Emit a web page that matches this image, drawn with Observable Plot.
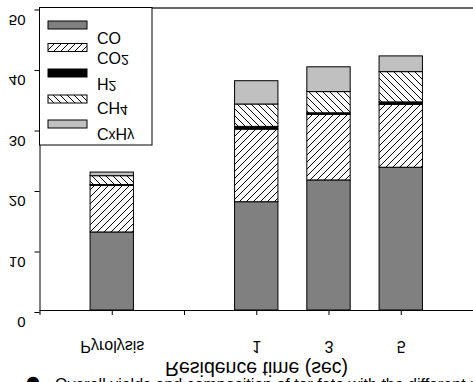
<!DOCTYPE html>
<html><head><meta charset="utf-8">
<script src="https://cdn.jsdelivr.net/npm/d3@7"></script>
<script src="https://cdn.jsdelivr.net/npm/@observablehq/plot@0.6"></script>
<style>
html,body{margin:0;padding:0;background:#fff;overflow:hidden}
svg{display:block}
</style>
</head><body><div id="chart"></div>
<script>
// ---- data ----
const categories = ["Pyrolysis", "", "1", "3", "5"];
const seriesNames = ["CO", "CO2", "H2", "CH4", "CxHy"];
const CO   = [12.9, null, 17.9, 21.5, 23.6];
const CO2  = [7.7,  null, 12.0, 10.85, 10.4];
const H2   = [0.15, null, 0.45, 0.25, 0.4];
const CH4  = [1.45, null, 3.7,  3.5,  5.0];
const CxHy = [0.6,  null, 3.85, 4.1,  2.6];
const yTicks = [0, 10, 20, 30, 40, 50];
const legendLabels = [["CO"], ["CO", "2"], ["H", "2"], ["CH", "4"], ["C", "x", "H", "y"]];
const xTitle = "Residence time (sec)";
const captionBullet = "\u25CF";
const caption = "Overall yields and composition of tar fate with the different residence time";

// ---- styles ----
const fills = {CO: "#808080", CO2: "url(#hatchF)", H2: "#000000", CH4: "url(#hatchB)", CxHy: "#c0c0c0"};
const font = "'Liberation Sans', Arial, sans-serif";

// build stacked rows
const seriesValues = [CO, CO2, H2, CH4, CxHy];
const rows = [];
categories.forEach((cat, i) => {
  if (seriesValues[0][i] == null) return;
  let acc = 0;
  seriesNames.forEach((s, k) => {
    const v = seriesValues[k][i];
    rows.push({x: i + 1, series: s, y1: acc, y2: acc + v});
    acc += v;
  });
});

const plot = Plot.plot({
  width: 473, height: 382,
  marginLeft: 39.5, marginRight: 0, marginTop: 7.5, marginBottom: 72,
  style: {fontFamily: font, background: "#fff", overflow: "hidden"},
  x: {type: "linear", domain: [0, categories.length + 1], axis: null},
  y: {domain: [0, 50], axis: null},
  color: {type: "identity"},
  marks: [
    Plot.ruleY([50], {stroke: "#333", strokeWidth: 1.3}),
    Plot.rect(rows, {x1: d => d.x - 0.3, x2: d => d.x + 0.3, y1: "y1", y2: "y2",
      fill: d => fills[d.series], stroke: "#000", strokeWidth: 1}),
    Plot.axisY({ticks: yTicks, anchor: "left", tickSize: 5, tickPadding: 9.5, fontSize: 15, dy: 2,
      tickFormat: d => String(d), stroke: "#000", color: "#000"}),
    Plot.axisX({ticks: d3.range(0, categories.length + 1), tickSize: 5, tickPadding: 14, fontSize: 16,
      tickFormat: i => (i >= 1 ? categories[i - 1] : ""), stroke: "#000", color: "#000"}),
    Plot.ruleX([0], {y1: 0, y2: 50, stroke: "#000"}),
    Plot.ruleY([0], {stroke: "#000"})
  ]
});

document.getElementById("chart").appendChild(plot);
const svg = d3.select(plot);

svg.insert("defs", ":first-child").html(`
  <pattern id="hatchF" width="7" height="7" patternUnits="userSpaceOnUse">
    <rect width="7" height="7" fill="#fff"/>
    <path d="M-1,1 l2,-2 M0,7 l7,-7 M6,8 l2,-2" stroke="#000" stroke-width="1"/>
  </pattern>
  <pattern id="hatchB" width="7" height="7" patternUnits="userSpaceOnUse">
    <rect width="7" height="7" fill="#fff"/>
    <path d="M-1,6 l2,2 M0,0 l7,7 M6,-1 l2,2" stroke="#000" stroke-width="1"/>
  </pattern>`);

// ---- legend ----
const lg = svg.append("g").attr("font-family", font).attr("text-anchor", "start");
lg.append("rect").attr("x", 39.5).attr("y", 7.5).attr("width", 112.5).attr("height", 137.5)
  .attr("fill", "#fff").attr("stroke", "#000");
const swatchTop = [21, 43.5, 69, 95, 120];
const textBase = [31.7, 52, 78, 102, 128];
seriesNames.forEach((s, k) => {
  lg.append("rect").attr("x", 48).attr("y", swatchTop[k]).attr("width", 39).attr("height", 8)
    .attr("fill", fills[s]).attr("stroke", "#000").attr("stroke-width", 1);
  let xpos = 97;
  legendLabels[k].forEach((part, j) => {
    const sub = j % 2 === 1;
    const t = lg.append("text").attr("x", xpos).attr("y", textBase[k] + (sub ? 3 : 0))
      .attr("text-anchor", "start")
      .attr("font-size", sub ? 14 : 16).attr("fill", "#000").text(part);
    xpos += t.node().getComputedTextLength();
  });
});

// ---- axis title & caption ----
svg.append("text").attr("x", 256.5).attr("y", 362).attr("text-anchor", "middle")
  .attr("font-family", font).attr("font-size", 19.5).attr("fill", "#000").text(xTitle);
svg.append("text").attr("class", "noflip").attr("x", 26).attr("y", 387)
  .attr("text-anchor", "start").attr("font-family", "'DejaVu Sans', sans-serif").attr("font-size", 16)
  .attr("fill", "#000").text(captionBullet);
svg.append("text").attr("class", "noflip").attr("x", 55).attr("y", 390)
  .attr("text-anchor", "start")
  .attr("font-family", font).attr("font-size", 16).attr("fill", "#000").text(caption);

// ---- flip all texts (except caption) about their baseline ----
plot.querySelectorAll("text").forEach(t => {
  if (t.classList.contains("noflip")) return;
  if (!t.getNumberOfChars || t.getNumberOfChars() === 0) return;
  const b = t.getStartPositionOfChar(0).y;
  const tr = t.getAttribute("transform") || "";
  t.setAttribute("transform", `${tr} translate(0,${2 * b}) scale(1,-1)`);
});
</script>
</body></html>
